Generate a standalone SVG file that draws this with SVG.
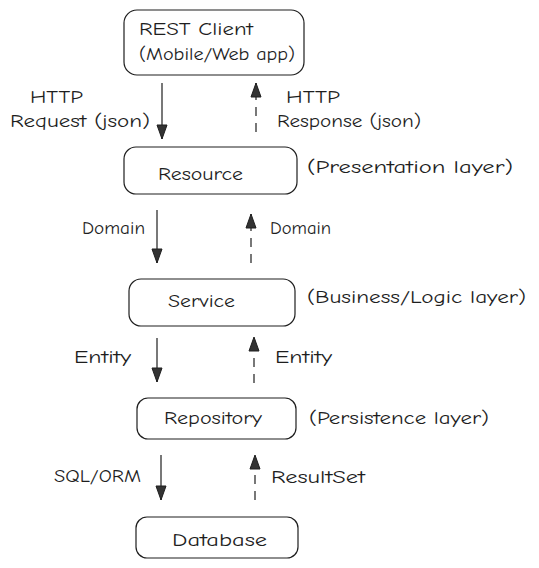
<svg xmlns="http://www.w3.org/2000/svg" width="539" height="568" viewBox="0 0 539 568">
<style>
.box{fill:#fff;stroke:#1e1e1e;stroke-width:1.2}
.t{font-family:"Comic Neue","Liberation Sans",sans-serif;font-size:18px;fill:#1e1e1e}
.a{stroke:#1e1e1e;stroke-width:1.2;fill:none}
.d{stroke-dasharray:9 7}
</style>
<defs>
<marker id="ah" markerUnits="userSpaceOnUse" markerWidth="16" markerHeight="12" viewBox="0 0 16 12" refX="15" refY="6" orient="auto">
<path d="M1 1 L1 11 L15 6 Z" fill="#333" stroke="#1e1e1e" stroke-width="1"/>
</marker>
</defs>
<rect width="539" height="568" fill="#fff"/>
<g id="rest-client">
<rect class="box" x="124" y="10" width="180" height="65" rx="13"/>
<text class="t" x="139" y="35" textLength="114" lengthAdjust="spacingAndGlyphs">REST Client</text>
<text class="t" x="139" y="60" textLength="156" lengthAdjust="spacingAndGlyphs">(Mobile/Web app)</text>
</g>
<g id="resource">
<rect class="box" x="124" y="147" width="173" height="47" rx="12"/>
<text class="t" x="158" y="180" textLength="85" lengthAdjust="spacingAndGlyphs">Resource</text>
<text class="t" x="307" y="173" textLength="206" lengthAdjust="spacingAndGlyphs">(Presentation layer)</text>
</g>
<g id="service">
<rect class="box" x="129" y="279" width="166" height="47" rx="12"/>
<text class="t" x="168" y="307" textLength="67" lengthAdjust="spacingAndGlyphs">Service</text>
<text class="t" x="307" y="303" textLength="219" lengthAdjust="spacingAndGlyphs">(Business/Logic layer)</text>
</g>
<g id="repository">
<rect class="box" x="137" y="398" width="159" height="41" rx="11"/>
<text class="t" x="164" y="424" textLength="98" lengthAdjust="spacingAndGlyphs">Repository</text>
<text class="t" x="309" y="424" textLength="180" lengthAdjust="spacingAndGlyphs">(Persistence layer)</text>
</g>
<g id="database">
<rect class="box" x="136" y="517" width="162" height="41" rx="11"/>
<text class="t" x="172" y="546" textLength="95" lengthAdjust="spacingAndGlyphs">Database</text>
</g>
<g id="connectors">
<line class="a" x1="162" y1="83" x2="162" y2="139" marker-end="url(#ah)"/>
<line class="a d" x1="256" y1="132" x2="256" y2="83" marker-end="url(#ah)"/>
<line class="a" x1="157" y1="210" x2="157" y2="263" marker-end="url(#ah)"/>
<line class="a d" x1="251" y1="263" x2="251" y2="214" marker-end="url(#ah)"/>
<line class="a" x1="157" y1="338" x2="157" y2="382" marker-end="url(#ah)"/>
<line class="a d" x1="254" y1="383" x2="254" y2="337" marker-end="url(#ah)"/>
<line class="a" x1="161" y1="455" x2="161" y2="500" marker-end="url(#ah)"/>
<line class="a d" x1="255" y1="500" x2="255" y2="455" marker-end="url(#ah)"/>
<text class="t" x="30" y="103" textLength="53" lengthAdjust="spacingAndGlyphs">HTTP</text>
<text class="t" x="10" y="127" textLength="140" lengthAdjust="spacingAndGlyphs">Request (json)</text>
<text class="t" x="286" y="103" textLength="54" lengthAdjust="spacingAndGlyphs">HTTP</text>
<text class="t" x="277" y="127" textLength="144" lengthAdjust="spacingAndGlyphs">Response (json)</text>
<text class="t" x="82" y="234" textLength="63" lengthAdjust="spacingAndGlyphs">Domain</text>
<text class="t" x="270" y="234" textLength="61" lengthAdjust="spacingAndGlyphs">Domain</text>
<text class="t" x="74" y="363" textLength="57" lengthAdjust="spacingAndGlyphs">Entity</text>
<text class="t" x="275" y="363" textLength="57" lengthAdjust="spacingAndGlyphs">Entity</text>
<text class="t" x="54" y="482" textLength="87" lengthAdjust="spacingAndGlyphs">SQL/ORM</text>
<text class="t" x="271" y="483" textLength="94" lengthAdjust="spacingAndGlyphs">ResultSet</text>
</g>
</svg>
